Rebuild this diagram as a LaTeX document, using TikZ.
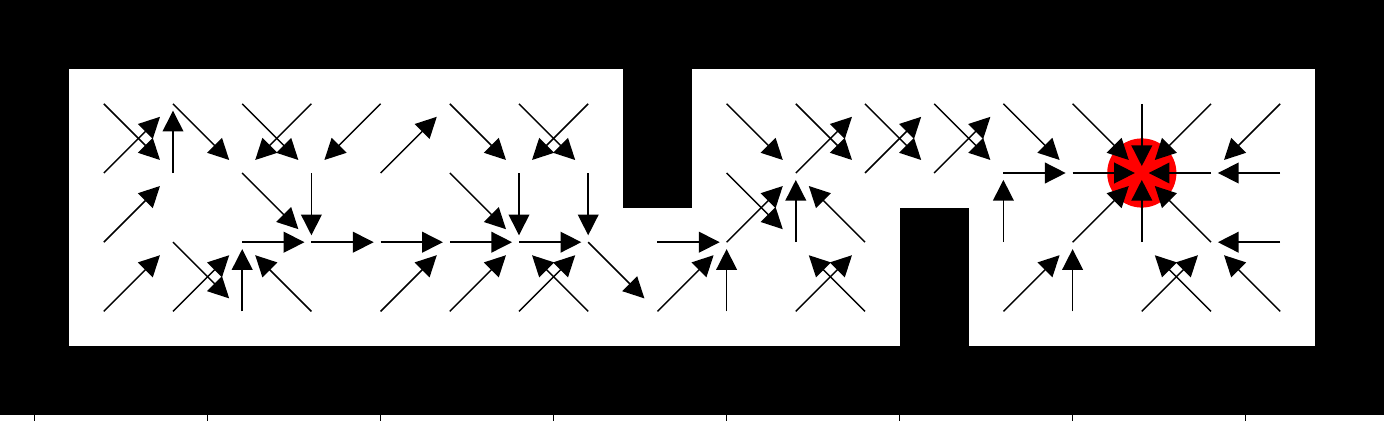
\documentclass[tikz,border=0pt]{standalone}
\usepackage{tikz}
\usetikzlibrary{arrows.meta}

\begin{document}
\begin{tikzpicture}[x=1cm, y=-1cm,
    policy/.style={line width=0.6pt, -{Triangle[length=0.3cm, width=0.3cm]}},
    wall/.style={fill=black}]
    \def\ortho{0.9}
    \def\diag{0.812}
    \useasboundingbox (-0.5,-0.5) rectangle (19.5,5.584);
    \fill[wall] (-0.5,-0.5) rectangle (19.5,5.5);
    \fill[white] (0.5,0.5) rectangle (18.5,4.5);
    \fill[wall] (8.5,0.5) rectangle (9.5,2.5);
    \fill[wall] (12.5,2.5) rectangle (13.5,4.5);
    \fill[red] (16,2) circle (0.5);
    \foreach \t in {0,2.5,...,17.5} \draw[line width=0.4pt] (\t,5.5) -- (\t,5.584);
    \foreach \c/\r in {1/1,2/1,3/1,6/1,7/1,10/1,11/1,12/1,13/1,14/1,15/1,3/2,6/2,10/2,2/3,8/3}
        \draw[policy] (\c,\r) -- ++(\diag,\diag);
    \foreach \c/\r in {4/1,5/1,8/1,17/1,18/1}
        \draw[policy] (\c,\r) -- ++(-\diag,\diag);
    \foreach \c/\r in {1/2,5/2,11/2,12/2,13/2,1/3,10/3,15/3,1/4,2/4,5/4,6/4,7/4,9/4,11/4,14/4,16/4}
        \draw[policy] (\c,\r) -- ++(\diag,-\diag);
    \foreach \c/\r in {12/3,17/3,4/4,8/4,12/4,17/4,18/4}
        \draw[policy] (\c,\r) -- ++(-\diag,-\diag);
    \foreach \c/\r in {16/1,4/2,7/2,8/2}
        \draw[policy] (\c,\r) -- ++(0,\ortho);
    \foreach \c/\r in {2/2,11/3,14/3,16/3,3/4,10/4,15/4}
        \draw[policy] (\c,\r) -- ++(0,-\ortho);
    \foreach \c/\r in {14/2,15/2,3/3,4/3,5/3,6/3,7/3,9/3}
        \draw[policy] (\c,\r) -- ++(\ortho,0);
    \foreach \c/\r in {17/2,18/2,18/3}
        \draw[policy] (\c,\r) -- ++(-\ortho,0);
\end{tikzpicture}
\end{document}
